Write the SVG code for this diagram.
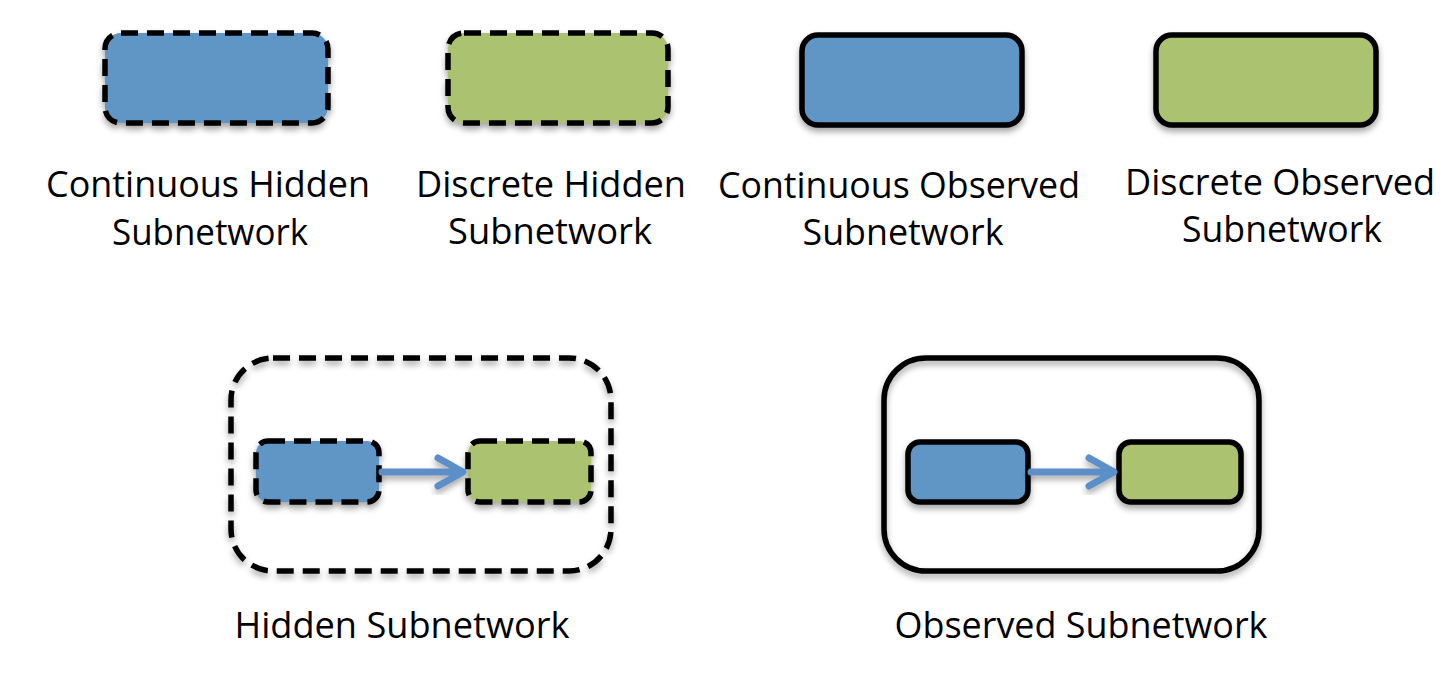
<svg xmlns="http://www.w3.org/2000/svg" width="1456" height="674" viewBox="0 0 1456 674">
<defs>
<filter id="sh" x="-20%" y="-20%" width="140%" height="150%">
<feDropShadow dx="0" dy="4" stdDeviation="3" flood-color="#000" flood-opacity="0.35"/>
</filter>
<style>
.blue{fill:#6096c6}
.green{fill:#abc270}
.none{fill:none}
.dash{stroke:#000;stroke-width:5.5;stroke-dasharray:17 9}
.solid{stroke:#000;stroke-width:5.5}
.lbl{font-family:"Open Sans","Noto Sans",sans-serif;font-size:36px;fill:#000;text-anchor:middle}
.arr{stroke:#5b8fc7;stroke-width:7;fill:none;stroke-linecap:round;stroke-linejoin:round}
</style>
</defs>
<rect width="1456" height="674" fill="#fff"/>

<g id="continuous-hidden">
<rect x="105" y="33" width="223" height="90" rx="16" class="blue dash" filter="url(#sh)"/>
<text class="lbl" x="208" y="197" textLength="324" lengthAdjust="spacingAndGlyphs">Continuous Hidden</text>
<text class="lbl" x="210" y="245" textLength="196" lengthAdjust="spacingAndGlyphs">Subnetwork</text>
</g>
<g id="discrete-hidden">
<rect x="448" y="33" width="220" height="90" rx="16" class="green dash" filter="url(#sh)"/>
<text class="lbl" x="551" y="197" textLength="270" lengthAdjust="spacingAndGlyphs">Discrete Hidden</text>
<text class="lbl" x="550" y="244" textLength="204" lengthAdjust="spacingAndGlyphs">Subnetwork</text>
</g>
<g id="continuous-observed">
<rect x="802" y="35" width="220" height="90" rx="16" class="blue solid" filter="url(#sh)"/>
<text class="lbl" x="899" y="198" textLength="362" lengthAdjust="spacingAndGlyphs">Continuous Observed</text>
<text class="lbl" x="903" y="245" textLength="201" lengthAdjust="spacingAndGlyphs">Subnetwork</text>
</g>
<g id="discrete-observed">
<rect x="1156" y="35" width="220" height="90" rx="16" class="green solid" filter="url(#sh)"/>
<text class="lbl" x="1280" y="195" textLength="310" lengthAdjust="spacingAndGlyphs">Discrete Observed</text>
<text class="lbl" x="1282" y="242" textLength="200" lengthAdjust="spacingAndGlyphs">Subnetwork</text>
</g>

<g id="hidden-subnetwork">
<rect x="231" y="358" width="380" height="213" rx="42" class="none dash" filter="url(#sh)"/>
<text class="lbl" x="402" y="638" textLength="335" lengthAdjust="spacingAndGlyphs">Hidden Subnetwork</text>
</g>
<g id="hidden-continuous">
<rect x="256" y="441" width="123" height="61" rx="12" class="blue dash" filter="url(#sh)"/>
</g>
<g id="hidden-discrete">
<rect x="468" y="441" width="123" height="61" rx="12" class="green dash" filter="url(#sh)"/>
</g>

<g id="observed-subnetwork">
<rect x="884" y="358" width="375" height="213" rx="42" class="none solid" filter="url(#sh)"/>
<text class="lbl" x="1081" y="638" textLength="373" lengthAdjust="spacingAndGlyphs">Observed Subnetwork</text>
</g>
<g id="observed-continuous">
<rect x="908" y="442" width="120" height="60" rx="12" class="blue solid" filter="url(#sh)"/>
</g>
<g id="observed-discrete">
<rect x="1119" y="442" width="122" height="60" rx="12" class="green solid" filter="url(#sh)"/>
</g>

<g id="connectors">
<g filter="url(#sh)">
<path class="arr" d="M382 472 H462 M438 458 L463 472 L438 486"/>
<path class="arr" d="M1031 472 H1113 M1089 458 L1114 472 L1089 486"/>
</g>
</g>
</svg>
